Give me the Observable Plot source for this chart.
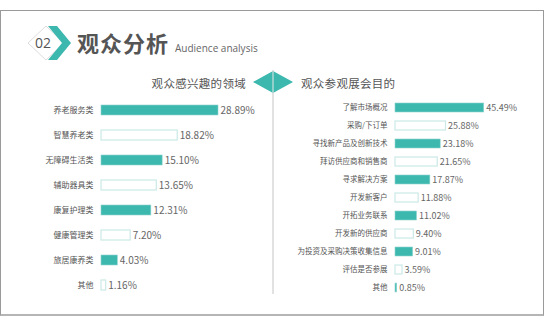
<!DOCTYPE html>
<html><head><meta charset="utf-8">
<script src="https://cdn.jsdelivr.net/npm/d3@7"></script>
<script src="https://cdn.jsdelivr.net/npm/@observablehq/plot@0.6"></script>
<style>
html,body{margin:0;padding:0;background:#fff;}
body{width:545px;height:326px;position:relative;overflow:hidden;font-family:"Noto Sans CJK SC","Noto Sans",sans-serif;}
#frame{position:absolute;left:0;top:10px;width:542px;height:303px;border:1px solid #9a9a9a;border-bottom:2px solid #b5b5b5;box-sizing:content-box;}
.abs{position:absolute;}
#title{left:77px;top:28px;font-size:22px;font-weight:bold;color:#555;letter-spacing:1px;line-height:28px;}
#sub{left:175px;top:41px;font-size:10px;color:#666;font-family:"Open Sans",sans-serif;line-height:14px;}
.head{font-size:11.5px;color:#555;line-height:14px;top:76px;letter-spacing:0.3px;}
#lh{right:299px;}
#rh{left:301px;}
</style></head><body>
<div id="frame"></div>
<svg class="abs" style="left:0;top:0" width="545" height="326">
  <polygon points="46,26 64,43 46,60 28,43" fill="#fff" stroke="#ddd" stroke-width="1"/>
  <polygon points="48,26 57,26 71,43 57,60 48,60 62,43" fill="#3cb8ae"/>
  <text x="43" y="48" font-size="14" fill="#555" text-anchor="middle" font-family="Open Sans, sans-serif">02</text>
  <line x1="273" y1="70" x2="273" y2="294" stroke="#cfcfcf" stroke-width="1.2"/>
  <polygon points="253,82 273,71 293,82 273,93" fill="#3cb8ae"/>
  <line x1="273" y1="71" x2="273" y2="93" stroke="#e8e8e8" stroke-width="1"/>
</svg>
<div id="title" class="abs">观众分析</div>
<div id="sub" class="abs">Audience analysis</div>
<div id="lh" class="abs head">观众感兴趣的领域</div>
<div id="rh" class="abs head">观众参观展会目的</div>
<script>
const leftCats = ["养老服务类","智慧养老类","无障碍生活类","辅助器具类","康复护理类","健康管理类","旅居康养类","其他"];
const leftVals = [28.89,18.82,15.10,13.65,12.31,7.20,4.03,1.16];
const rightCats = ["了解市场概况","采购/下订单","寻找新产品及创新技术","拜访供应商和销售商","寻求解决方案","开发新客户","开拓业务联系","开发新的供应商","为投资及采购决策收集信息","评估是否参展","其他"];
const rightVals = [45.49,25.88,23.18,21.65,17.87,11.88,11.02,9.40,9.01,3.59,0.85];

const TEAL = "#3cb8ae", PALE = "#cbe9e6";

function chart(cats, vals, xRange, xMax, yRange, pInner, pOuter, labFs, valFs) {
  const data = cats.map((c,i)=>({cat:c, value:vals[i], i}));
  return Plot.plot({
    width:545, height:326,
    style:{background:"transparent", position:"absolute", left:"0px", top:"0px", fontFamily:"'Noto Sans CJK SC','Noto Sans',sans-serif"},
    x:{domain:[0,xMax], range:xRange, axis:null},
    y:{domain:cats, range:yRange, paddingInner:pInner, paddingOuter:pOuter, axis:null},
    marks:[
      Plot.barX(data.filter(d=>d.i%2===0), {x:"value", y:"cat", fill:TEAL, stroke:"#8fd3cd", strokeWidth:0.6}),
      Plot.barX(data.filter(d=>d.i%2===1), {x:"value", y:"cat", fill:"#fff", stroke:PALE, strokeWidth:1.2}),
      Plot.text(data, {x:0, y:"cat", text:"cat", textAnchor:"end", dx:-8, fontSize:labFs, fill:"#555"}),
      Plot.text(data, {x:"value", y:"cat", text:d=>d.value.toFixed(2)+"%", textAnchor:"start", dx:2, fontSize:valFs, fill:"#666"})
    ]
  });
}
document.body.appendChild(chart(leftCats, leftVals, [101, 263], 40, [95.25, 299.75], 0.6, 0.3, 8, 10));
document.body.appendChild(chart(rightCats, rightVals, [395, 492.5], 50, [97.95, 297.05], 0.5, 0.25, 7.5, 9));
</script>
</body></html>
